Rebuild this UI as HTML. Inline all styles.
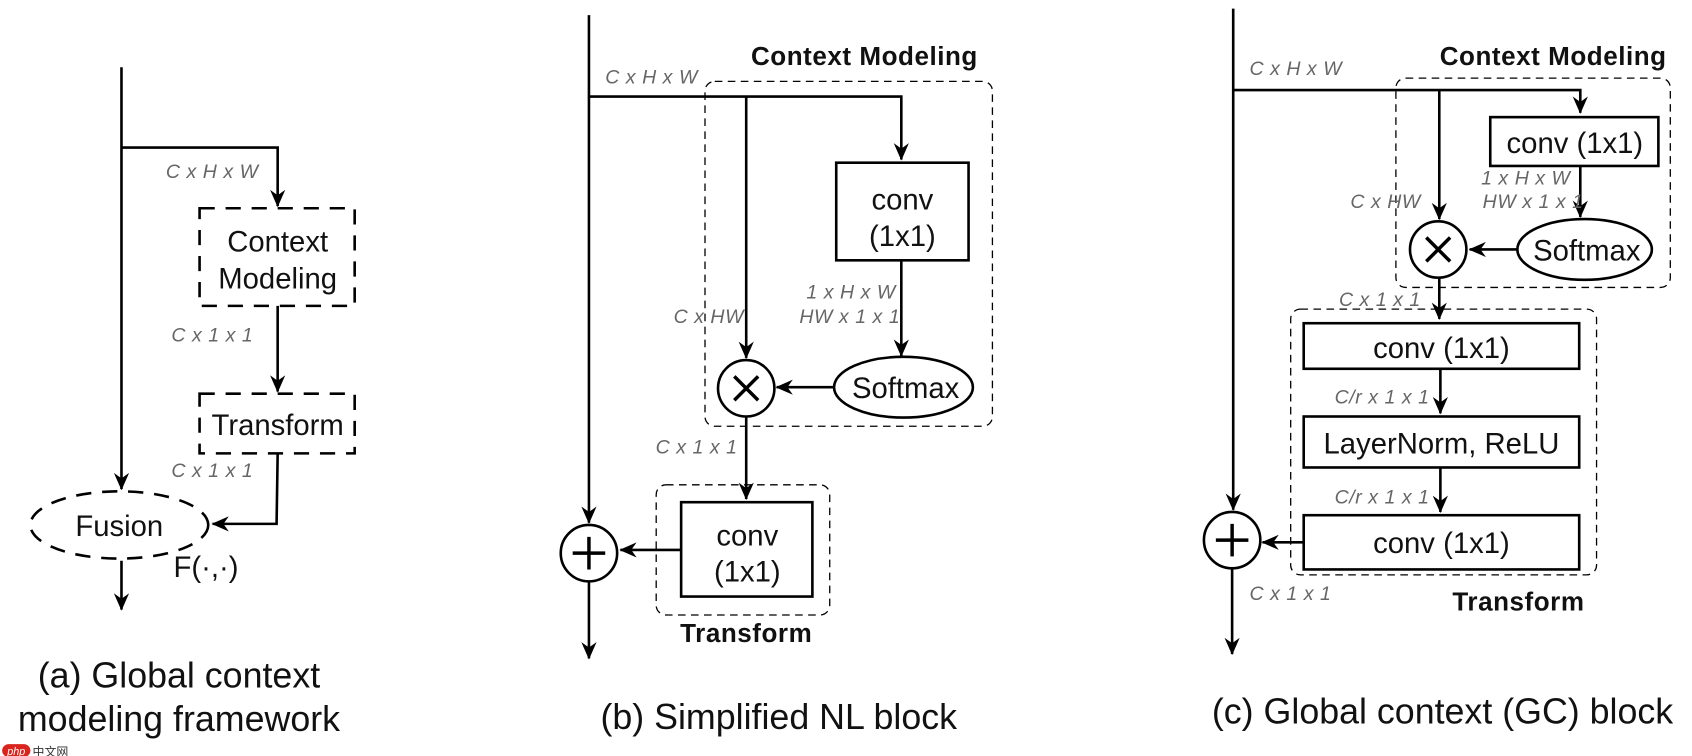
<!DOCTYPE html>
<html><head><meta charset="utf-8"><style>
html,body{margin:0;padding:0;background:#fff;}
svg{display:block;}
text{font-family:"Liberation Sans",Arial,sans-serif;}
.l{font-size:18px;font-style:italic;fill:#666;letter-spacing:0.5px;}
.b{font-size:24px;font-weight:bold;fill:#111;letter-spacing:0.5px;}
.n{font-size:27px;fill:#111;}
.c{font-size:33px;fill:#111;}
</style></head><body>
<svg width="1692" height="756" viewBox="0 0 1560 697" preserveAspectRatio="none" xmlns="http://www.w3.org/2000/svg">
<defs>
<marker id="a" viewBox="0 0 16 14" refX="15" refY="7" markerWidth="16" markerHeight="14" markerUnits="userSpaceOnUse" orient="auto">
<path d="M0,0 L16,7 L0,14 L5,7 Z" fill="#000"/>
</marker>
</defs>
<g stroke="#000" stroke-width="2.4" fill="none">
<!-- panel a -->
<path d="M112,62 V451" marker-end="url(#a)"/>
<path d="M112,136 H256 V190" marker-end="url(#a)"/>
<rect x="184" y="192" width="143" height="90" stroke-dasharray="14,10"/>
<path d="M256,282 V361" marker-end="url(#a)"/>
<rect x="184" y="363" width="143" height="55" stroke-dasharray="14,10"/>
<path d="M256,418 L255,483 H196" marker-end="url(#a)"/>
<ellipse cx="110" cy="484" rx="82" ry="31" stroke-dasharray="14,10"/>
<path d="M112,517 V562" marker-end="url(#a)"/>
<!-- panel b -->
<path d="M543,14 V482" marker-end="url(#a)"/>
<circle cx="543" cy="510" r="26"/>
<path d="M543,536 V607" marker-end="url(#a)"/>
<path d="M543,89 H831 V147" marker-end="url(#a)"/>
<path d="M688,89 V330" marker-end="url(#a)"/>
<rect x="771" y="150" width="122" height="90"/>
<path d="M831,240 V328" marker-end="url(#a)"/>
<ellipse cx="833" cy="357" rx="64" ry="28"/>
<path d="M769,357 H716" marker-end="url(#a)"/>
<circle cx="688" cy="358" r="26"/>
<path d="M688,384 V460" marker-end="url(#a)"/>
<rect x="628" y="463" width="121" height="87"/>
<path d="M628,507 H572" marker-end="url(#a)"/>
<!-- panel c -->
<path d="M1137,8 V470" marker-end="url(#a)"/>
<circle cx="1136" cy="498" r="26"/>
<path d="M1136,524 V603" marker-end="url(#a)"/>
<path d="M1137,83 H1457 V104" marker-end="url(#a)"/>
<path d="M1327,83 V202" marker-end="url(#a)"/>
<rect x="1374" y="108" width="155" height="45"/>
<path d="M1457,153 V200" marker-end="url(#a)"/>
<ellipse cx="1461" cy="230" rx="62" ry="28"/>
<path d="M1399,230 H1355" marker-end="url(#a)"/>
<circle cx="1326" cy="230" r="26"/>
<path d="M1327,256 V294" marker-end="url(#a)"/>
<rect x="1202" y="298" width="254" height="42"/>
<path d="M1328,340 V381" marker-end="url(#a)"/>
<rect x="1202" y="384" width="254" height="47"/>
<path d="M1328,431 V472" marker-end="url(#a)"/>
<rect x="1202" y="475" width="254" height="50"/>
<path d="M1202,500 H1164" marker-end="url(#a)"/>
</g>
<g stroke="#000" stroke-width="1.2" fill="none" stroke-dasharray="7,5">
<rect x="650" y="75" width="265" height="318" rx="9"/>
<rect x="605" y="447" width="160" height="120" rx="9"/>
<rect x="1287" y="72" width="253" height="193" rx="9"/>
<rect x="1190" y="285" width="282" height="245" rx="9"/>
</g>
<g stroke="#000" stroke-width="3.2">
<path d="M677,347 L699,369 M699,347 L677,369"/>
<path d="M1315,219 L1337,241 M1337,219 L1315,241"/>
<path d="M528,510 H558 M543,495 V525"/>
<path d="M1121,498 H1151 M1136,483 V513"/>
</g>
<!-- labels a -->
<text class="l" x="153" y="164">C x H x W</text>
<text class="n" x="256" y="232" text-anchor="middle">Context</text>
<text class="n" x="256" y="266" text-anchor="middle">Modeling</text>
<text class="l" x="158" y="315">C x 1 x 1</text>
<text class="n" x="256" y="401" text-anchor="middle">Transform</text>
<text class="l" x="158" y="440">C x 1 x 1</text>
<text class="n" x="110" y="494" text-anchor="middle">Fusion</text>
<text class="n" x="160" y="532">F(·,·)</text>
<text class="c" x="165" y="634" text-anchor="middle">(a) Global context</text>
<text class="c" x="165" y="674" text-anchor="middle">modeling framework</text>
<!-- labels b -->
<text class="b" x="797" y="60" text-anchor="middle">Context Modeling</text>
<text class="l" x="558" y="77">C x H x W</text>
<text class="n" x="832" y="193" text-anchor="middle">conv</text>
<text class="n" x="832" y="227" text-anchor="middle">(1x1)</text>
<text class="l" x="826" y="275" text-anchor="end">1 x H x W</text>
<text class="l" x="830" y="298" text-anchor="end">HW x 1 x 1</text>
<text class="l" x="686" y="298" text-anchor="end">C x HW</text>
<text class="n" x="835" y="367" text-anchor="middle">Softmax</text>
<text class="l" x="680" y="418" text-anchor="end">C x 1 x 1</text>
<text class="n" x="689" y="503" text-anchor="middle">conv</text>
<text class="n" x="689" y="536" text-anchor="middle">(1x1)</text>
<text class="b" x="688" y="592" text-anchor="middle">Transform</text>
<text class="c" x="718" y="672" text-anchor="middle">(b) Simplified NL block</text>
<!-- labels c -->
<text class="b" x="1432" y="60" text-anchor="middle">Context Modeling</text>
<text class="l" x="1152" y="69">C x H x W</text>
<text class="n" x="1452" y="141" text-anchor="middle">conv (1x1)</text>
<text class="l" x="1448" y="170" text-anchor="end">1 x H x W</text>
<text class="l" x="1460" y="192" text-anchor="end">HW x 1 x 1</text>
<text class="l" x="1310" y="192" text-anchor="end">C x HW</text>
<text class="n" x="1463" y="240" text-anchor="middle">Softmax</text>
<text class="l" x="1310" y="282" text-anchor="end">C x 1 x 1</text>
<text class="n" x="1329" y="330" text-anchor="middle">conv (1x1)</text>
<text class="l" x="1318" y="372" text-anchor="end">C/r x 1 x 1</text>
<text class="n" x="1329" y="418" text-anchor="middle">LayerNorm, ReLU</text>
<text class="l" x="1318" y="464" text-anchor="end">C/r x 1 x 1</text>
<text class="n" x="1329" y="510" text-anchor="middle">conv (1x1)</text>
<text class="l" x="1152" y="553">C x 1 x 1</text>
<text class="b" x="1400" y="563" text-anchor="middle">Transform</text>
<text class="c" x="1330" y="667" text-anchor="middle">(c) Global context (GC) block</text>
<!-- watermark -->
<rect x="2" y="686" width="26" height="12" rx="6" fill="#d9251d"/>
<text x="15" y="696" font-size="10" fill="#fff" text-anchor="middle" font-style="italic">php</text>
<text x="30" y="697" font-size="11" fill="#333" style="font-family:'Liberation Sans','Noto Sans CJK SC',sans-serif">中文网</text>
</svg>
</body></html>
